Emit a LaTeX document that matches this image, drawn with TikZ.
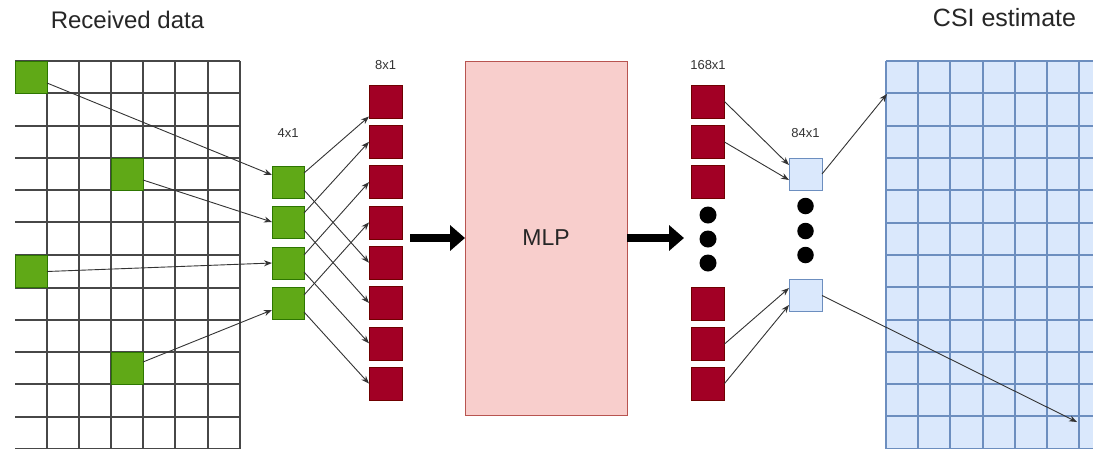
\documentclass[tikz,border=0pt]{standalone}
\usepackage{fontspec}
\setmainfont{Liberation Sans}
\usetikzlibrary{arrows.meta,calc}
\definecolor{gfill}{HTML}{60A917}
\definecolor{gdraw}{HTML}{2D7600}
\definecolor{rfill}{HTML}{A20025}
\definecolor{rdraw}{HTML}{6F0000}
\definecolor{bfill}{HTML}{DAE8FC}
\definecolor{bdraw}{HTML}{6C8EBF}
\definecolor{pfill}{HTML}{F8CECC}
\definecolor{pdraw}{HTML}{B85450}
\definecolor{ln}{HTML}{333333}
\begin{document}
\begin{tikzpicture}[x=1pt,y=-1pt,
  gcell/.style={draw=gdraw,fill=gfill,minimum width=32pt,minimum height=32pt,inner sep=0pt,outer sep=0pt,line width=0.6pt},
  rcell/.style={draw=rdraw,fill=rfill,minimum width=33pt,minimum height=33pt,inner sep=0pt,outer sep=0pt,line width=0.6pt},
  bcell/.style={draw=bdraw,fill=bfill,minimum width=33pt,minimum height=32pt,inner sep=0pt,outer sep=0pt,line width=0.8pt},
  mlpbox/.style={draw=pdraw,fill=pfill,minimum width=162pt,minimum height=354pt,inner sep=0pt,outer sep=0pt,line width=0.8pt,font=\fontsize{23}{27}\selectfont,text=black!85},
  dot/.style={circle,fill=black,minimum size=17pt,inner sep=0pt},
  lbl/.style={font=\fontsize{13}{15}\selectfont,text=ln,inner sep=0pt},
  title/.style={font=\fontsize{24}{28}\selectfont,text=black!85,inner sep=0pt,anchor=base},
  arr/.style={draw=ln,line width=0.9pt,-{Stealth[length=8pt,width=6pt]}},
  big/.style={draw=black,line width=8pt,-{Triangle[length=15pt,width=25pt]}},
  lgrid/.style={draw=black!72,line width=1.1pt},
  bgrid/.style={draw=bdraw,line width=1.1pt}
]
\useasboundingbox (0,0) rectangle (1093,448);
\begin{scope}
\clip (0,0) rectangle (1093,448);
% left grid
\foreach \y in {61,93,126,158,190,222,255,288,320,352,384,417,449} \draw[lgrid] (15,\y) -- (240,\y);
\foreach \x in {47,79,111,143,175,208,240} \draw[lgrid] (\x,61) -- (\x,450);
% CSI grid
\fill[bfill] (886,61) rectangle (1093,450);
\foreach \y in {61,93,126,158,190,223,255,287,320,352,384,416,449} \draw[bgrid] (886,\y) -- (1093,\y);
\foreach \x in {886,918,950,983,1015,1047,1079} \draw[bgrid] (\x,61) -- (\x,450);
\end{scope}

% titles
\node[title] (t1) at (127.5,28) {Received data};
\node[title,font=\fontsize{25}{29}\selectfont] (t2) at (1004.5,26) {CSI estimate};

% green cells in grid
\node[gcell] (g1) at (31,77) {};
\node[gcell] (g2) at (127,174) {};
\node[gcell] (g3) at (31,271.5) {};
\node[gcell] (g4) at (127,368) {};

% 4x1 column
\node[lbl] (l4) at (288,133) {4x1};
\node[gcell] (h1) at (288,182) {};
\node[gcell] (h2) at (288,222) {};
\node[gcell] (h3) at (288,263) {};
\node[gcell] (h4) at (288,303.5) {};

% 8x1 column
\node[lbl] (l8) at (385.5,65) {8x1};
\foreach \i/\y in {1/101.5,2/141.8,3/182.1,4/222.4,5/262.7,6/303,7/343.3,8/383.6}
  \node[rcell] (r\i) at (385.5,\y) {};

% MLP
\node[mlpbox] (mlp) at (546,238) {MLP};

% 168x1 column
\node[lbl] (l168) at (708,65) {168x1};
\node[rcell] (s1) at (708,101.5) {};
\node[rcell] (s2) at (708,142) {};
\node[rcell] (s3) at (708,182) {};
\node[dot] (d1) at (708,215) {};
\node[dot] (d2) at (708,239) {};
\node[dot] (d3) at (708,263) {};
\node[rcell] (s4) at (708,303.5) {};
\node[rcell] (s5) at (708,344) {};
\node[rcell] (s6) at (708,383.5) {};

% 84x1 column
\node[lbl] (l84) at (805.5,133) {84x1};
\node[bcell] (b1) at (805.5,174) {};
\node[dot,minimum size=16.5pt] (e1) at (805.5,206) {};
\node[dot,minimum size=16.5pt] (e2) at (805.5,231) {};
\node[dot,minimum size=16.5pt] (e3) at (805.5,255) {};
\node[bcell] (b2) at (805.5,295.5) {};

% CSI targets
\coordinate (c1) at (887,94);
\coordinate (c2) at (1077,422);
% big arrow ends
\coordinate (a1s) at (410,238);
\coordinate (a2e) at (684,238);

% grid -> 4x1
\draw[arr] ($(g1.east)+(0,6)$) -- ($(h1.west)+(0,-7)$);
\draw[arr] ($(g2.east)+(0,6)$) -- (h2.west);
\draw[arr] (g3.east) -- (h3.west);
\draw[arr] ($(g4.east)+(0,-6)$) -- ($(h4.west)+(0,6.5)$);

% 4x1 -> 8x1
\draw[arr] ($(h1.east)+(0,-9)$) -- ($(r1.west)+(0,15)$);
\draw[arr] ($(h1.east)+(0,8)$) -- (r5.west);
\draw[arr] ($(h2.east)+(0,-9)$) -- (r2.west);
\draw[arr] ($(h2.east)+(0,8)$) -- (r6.west);
\draw[arr] ($(h3.east)+(0,-8)$) -- (r3.west);
\draw[arr] ($(h3.east)+(0,9)$) -- (r7.west);
\draw[arr] ($(h4.east)+(0,-8.5)$) -- (r4.west);
\draw[arr] ($(h4.east)+(0,8.5)$) -- (r8.west);

% big arrows
\draw[big] (a1s) -- (mlp.west);
\draw[big] (mlp.east) -- (a2e);

% 168x1 -> 84x1
\draw[arr] (s1.east) -- ($(b1.west)+(0,-9)$);
\draw[arr] (s2.east) -- ($(b1.west)+(0,6)$);
\draw[arr] (s5.east) -- ($(b2.west)+(0,-7.5)$);
\draw[arr] (s6.east) -- ($(b2.west)+(0,9.5)$);

% 84x1 -> CSI
\draw[arr] (b1.east) -- (c1);
\draw[arr] (b2.east) -- (c2);
\end{tikzpicture}
\end{document}
